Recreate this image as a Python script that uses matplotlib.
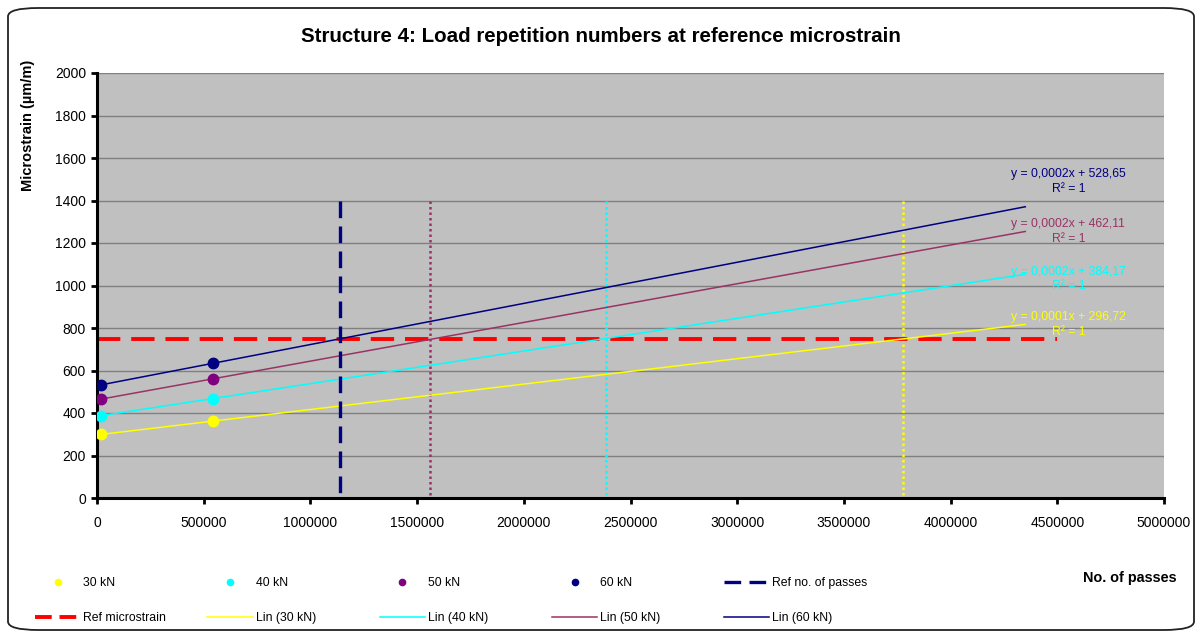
import numpy as np
import matplotlib
matplotlib.use("Agg")
import matplotlib.pyplot as plt
from matplotlib.lines import Line2D
from matplotlib.patches import FancyBboxPatch

plt.rcParams['font.family'] = ['Liberation Sans', 'DejaVu Sans']

# measured points (no. of passes, microstrain)
passes = [17000, 544000]
strain_30 = [299, 362]
strain_40 = [387, 468]
strain_50 = [465, 561]
strain_60 = [532, 634]

loads = ['30 kN', '40 kN', '50 kN', '60 kN']
point_colors = ['#FFFF00', '#00FFFF', '#800080', '#000080']
trend_colors = ['#FFFF00', '#00FFFF', '#993366', '#000080']
equations = ['y = 0,0001x + 296,72\nR² = 1', 'y = 0,0002x + 384,17\nR² = 1',
             'y = 0,0002x + 462,11\nR² = 1', 'y = 0,0002x + 528,65\nR² = 1']
eq_y = [816, 1030, 1254, 1488]
trend_end = 4350000

ref_strain = 750
ref_strain_end = 4500000
ref_passes = 1140000        # 60 kN
other_passes = [3775000, 2385000, 1560000]   # 30, 40, 50 kN
vline_top = 1400

W, H = 1202, 637
fig = plt.figure(figsize=(W / 100, H / 100), dpi=100)
ax = fig.add_axes([97 / W, 1 - 498 / H, (1164 - 97) / W, (498 - 73) / H])
ax.set_facecolor('#C0C0C0')

# rounded frame round the whole chart
fig.patches.append(FancyBboxPatch((8 / W, 7 / H), 1186 / W, 622 / H,
                                  boxstyle='round,pad=0,rounding_size=0.025',
                                  transform=fig.transFigure, fill=False,
                                  ec='#222222', lw=1.3, mutation_aspect=H / W))

series = [strain_30, strain_40, strain_50, strain_60]
xs = np.array([0, trend_end])
trend_handles = []
point_handles = []
for i, ys in enumerate(series):
    k, b = np.polyfit(passes, ys, 1)
    ln, = ax.plot(xs, k * xs + b, color=trend_colors[i], lw=1.1, zorder=3)
    trend_handles.append(ln)
    sc, = ax.plot(passes, ys, 'o', color=point_colors[i], ms=7.5, zorder=4, ls='none')
    point_handles.append(sc)
    ax.text(4552000, eq_y[i], equations[i], color=trend_colors[i], fontsize=8.8,
            ha='center', va='center', linespacing=1.3)

# vertical dotted lines at the crossings
for xv, c in zip(other_passes, ['#FFFF00', '#00FFFF', '#993366']):
    ax.plot([xv, xv], [vline_top, 0], color=c, lw=1.8, ls=(0, (1, 1.2)), zorder=2)

ref_h, = ax.plot([ref_passes, ref_passes], [vline_top, 0], color='#000080', lw=2.4,
                 ls=(0, (5, 2.5)), zorder=3)
ax.plot([0, ref_strain_end], [ref_strain, ref_strain], color='#FF0000', lw=2.8,
        ls=(0, (6, 2.8)), zorder=2)
# legend shows shorter dashes than the plotted line
refs_h = Line2D([], [], color='#FF0000', lw=2.8, ls=(0, (4.3, 2)))

ax.set_xlim(0, 5000000)
ax.set_ylim(0, 2000)
ax.set_xticks(np.arange(0, 5000001, 500000))
ax.set_yticks(np.arange(0, 2001, 200))
ax.xaxis.set_major_formatter(plt.FuncFormatter(lambda v, p: f'{int(v)}'))
ax.grid(axis='y', color='#808080', lw=1)
ax.set_axisbelow(True)
for s in ['top', 'right']:
    ax.spines[s].set_visible(False)
for s in ['left', 'bottom']:
    ax.spines[s].set_linewidth(2.2)
ax.tick_params(axis='both', length=4, width=2, labelsize=10)
ax.tick_params(axis='x', pad=9)
ax.tick_params(axis='y', pad=4)

fig.text(0.5, 1 - 37 / H, 'Structure 4: Load repetition numbers at reference microstrain',
         ha='center', va='center', fontsize=14.8, fontweight='bold')
fig.text(28 / W, 1 - 125 / H, 'Microstrain (µm/m)', rotation=90, ha='center',
         va='center', fontsize=10.5, fontweight='bold')
fig.text(1130 / W, 1 - 578 / H, 'No. of passes', ha='center', va='center',
         fontsize=10.4, fontweight='bold')

# legend entries on a fixed grid, like the original
row1 = list(point_handles) + [ref_h]
row2 = [refs_h] + trend_handles
labels1 = loads + ['Ref no. of passes']
labels2 = ['Ref microstrain'] + [f'Lin ({l})' for l in loads]
for row, labs, yrow in [(row1, labels1, 583), (row2, labels2, 618)]:
    for j, (h, lab) in enumerate(zip(row, labs)):
        leg = fig.legend([h], [lab], loc='center left',
                         bbox_to_anchor=((35 + 172.3 * j) / W, 1 - yrow / H),
                         frameon=False, fontsize=8.8, handlelength=3.7,
                         handletextpad=0.25, borderpad=0, borderaxespad=0)
        for lh in leg.legend_handles:
            if lh.get_marker() == 'o':
                lh.set_markersize(4.5)

fig.savefig('out.png', dpi=100)
